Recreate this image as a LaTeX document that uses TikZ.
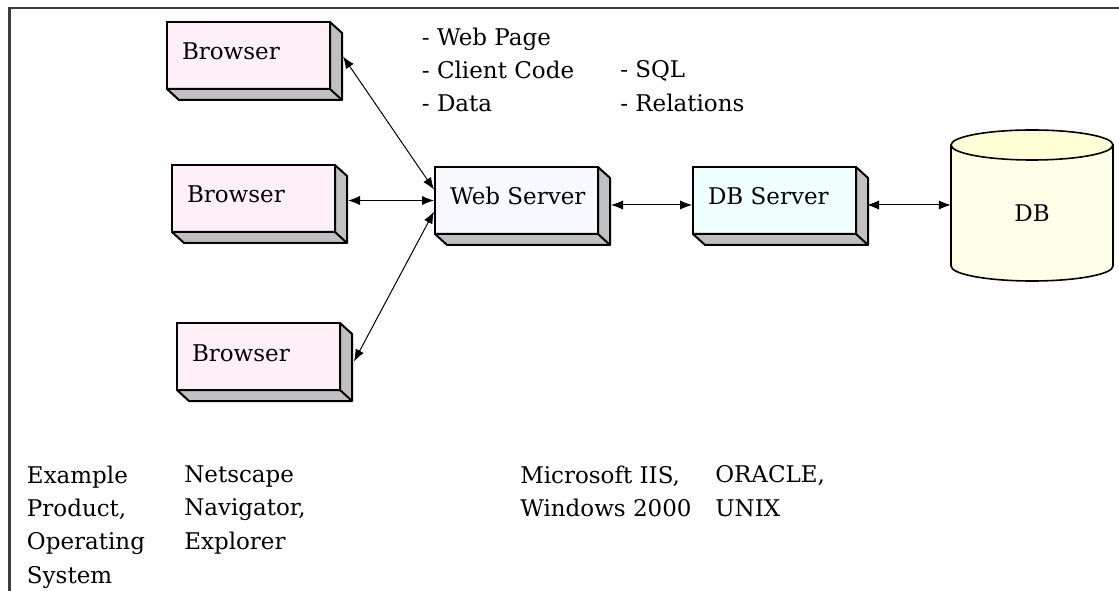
\documentclass[tikz,border=0pt]{standalone}
\usepackage{fontspec}
\setmainfont{DejaVu Serif}
\usetikzlibrary{calc,arrows.meta}

\definecolor{browserfill}{HTML}{FFF0F8}
\definecolor{webfill}{HTML}{F8F8FF}
\definecolor{dbsfill}{HTML}{F0FFFF}
\definecolor{cylbody}{HTML}{FFFFE8}
\definecolor{cyltop}{HTML}{FFFFD6}
\definecolor{sidegray}{HTML}{C0C0C0}
\definecolor{framegray}{HTML}{3C3C3C}

\begin{document}
\begin{tikzpicture}[
  x=0.75pt, y=-0.75pt,
  font=\fontsize{17.25pt}{25pt}\selectfont,
  slab/.style={draw=black, line width=1.5pt, anchor=north west, outer sep=0pt,
    inner xsep=11.25pt, inner ysep=0pt,
    execute at begin node={\hbox to 99.75pt\bgroup},
    execute at end node={\hss\egroup},
    minimum height=50.25pt, text height=12.75pt, text depth=6pt},
  browser/.style={slab, fill=browserfill},
  websrv/.style={slab, fill=webfill},
  dbsrv/.style={slab, fill=dbsfill},
  sideface/.style={fill=sidegray, draw=black, line width=1.5pt, line join=round},
  conn/.style={line width=0.75pt,
    {Latex[length=9pt,width=7pt]}-{Latex[length=9pt,width=7pt]}},
  lbl/.style={anchor=north west, inner sep=0pt, align=left},
  frameline/.style={draw=framegray, line width=1.6pt},
  cyl/.style={draw=black, line width=1.2pt},
]
\useasboundingbox (0,0) rectangle (1119,591);

% outer frame (top and left edges)
\draw[frameline] (9.5,591) -- (9.5,8) -- (1119,8);

% clients, web tier, database tier
\node[browser] (b1) at (167,22)  {Browser};
\node[browser] (b2) at (172,165) {Browser};
\node[browser] (b3) at (177,323) {Browser};
\node[websrv]  (ws) at (435,167) {Web Server};
\node[dbsrv]  (dbs) at (693,167) {DB Server};

% extruded side and bottom faces of the slabs
\foreach \n in {b1,b2,b3,ws,dbs}{
  \filldraw[sideface] (\n.north east) -- ++(12,11)
    -- ($(\n.south east)+(12,11)$) -- ($(\n.south west)+(12,11)$)
    -- (\n.south west) -- (\n.south east) -- cycle;
  \draw[sideface] (\n.south east) -- ++(12,11);
}

% database cylinder
\fill[cylbody] (951,145) -- (951,266)
  arc[start angle=180, end angle=0, x radius=81, y radius=15] -- (1113,145) -- cycle;
\draw[cyl] (951,145) -- (951,266)
  arc[start angle=180, end angle=0, x radius=81, y radius=15] -- (1113,145);
\filldraw[cyl, fill=cyltop] (1032,145) ellipse[x radius=81, y radius=15];
\node[minimum width=121.5pt, inner sep=0pt] (db) at (1032,213) {DB};

% connections
\draw[conn] ($(b1.east)+(13,1)$) -- ($(ws.west)+(-1,-11)$);
\draw[conn] ($(b2.east)+(13,2)$) -- ($(ws.west)+(-1,0)$);
\draw[conn] ($(b3.east)+(14,5)$) -- ($(ws.west)+(-1,11)$);
\draw[conn] ($(ws.east)+(13,4.5)$) -- ($(dbs.west)+(-1,4.5)$);
\draw[conn] ($(dbs.east)+(11,4.5)$) -- ($(db.west)+(0,-8)$);

% what travels between the tiers
\node[lbl] (payload) at (421.7,27.5) {- Web Page\\- Client Code\\- Data};
\node[lbl] (query)   at (620,60.5)   {- SQL\\- Relations};

% example products for each tier
\node[lbl] (cap0) at (26.7,465.5) {Example\\Product,\\Operating\\System};
\node[lbl] (cap1) at (184,465.5)  {Netscape\\Navigator,\\Explorer};
\node[lbl] (cap2) at (520,465.5)  {Microsoft IIS,\\Windows 2000};
\node[lbl] (cap3) at (715,465.5)  {ORACLE,\\UNIX};
\end{tikzpicture}
\end{document}
